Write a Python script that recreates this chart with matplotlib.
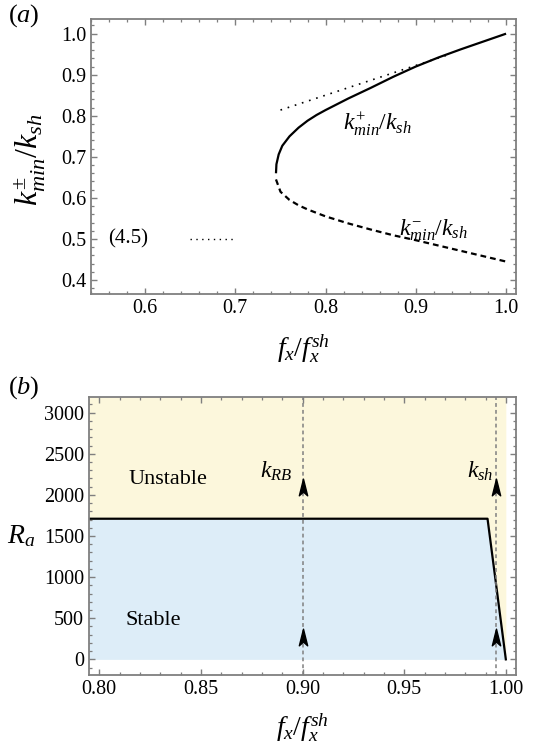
import matplotlib
matplotlib.use("Agg")
import matplotlib.pyplot as plt
from matplotlib.ticker import MultipleLocator
from matplotlib.path import Path

plt.rcParams['font.family'] = ['Liberation Serif', 'DejaVu Serif']
plt.rcParams['mathtext.fontset'] = 'custom'
plt.rcParams['mathtext.rm'] = 'Liberation Serif'
plt.rcParams['mathtext.it'] = 'Liberation Serif:italic'

# ---------------- data: panel (a) ----------------
fx_plus = [0.745, 0.7455, 0.748, 0.752, 0.76, 0.77, 0.78, 0.79, 0.80, 0.825,
           0.85, 0.875, 0.90, 0.925, 0.95, 0.975, 1.0]
k_plus = [0.660, 0.682, 0.706, 0.727, 0.750, 0.771, 0.788, 0.802, 0.814, 0.842,
          0.868, 0.895, 0.920, 0.942, 0.962, 0.981, 1.0]
fx_minus = [0.745, 0.75, 0.76, 0.77, 0.78, 0.80, 0.825, 0.85, 0.875, 0.90,
            0.925, 0.95, 0.975, 1.0]
k_minus = [0.645, 0.615, 0.595, 0.582, 0.572, 0.555, 0.538, 0.523, 0.509, 0.497,
           0.484, 0.471, 0.458, 0.445]
fx_approx = [0.75, 0.935]
k_approx = [0.814, 0.948]
legend_fx = [0.65, 0.70]
legend_k = [0.5, 0.5]

# ---------------- data: panel (b) ----------------
fx_Ra = [0.795, 0.991, 1.0]
Ra = [1710, 1710, 0]
fx_marks = [0.90, 0.995]
mark_labels = [r'$k_{RB}$', r'$k_{sh}$']
mark_label_x = [0.8872, 0.9872]
arrow_Ra = [270, 2090]

W, H = 546, 744
fig = plt.figure(figsize=(W / 100, H / 100), dpi=100)

frame_col = '#7f7f7f'
tick_fs = 14.5
lab_fs = 20


def style_axes(ax):
    for s in ax.spines.values():
        s.set_color(frame_col)
        s.set_linewidth(1.3)
    ax.tick_params(which='both', direction='in', top=True, right=True,
                   color=frame_col, labelsize=tick_fs)
    ax.tick_params(which='major', length=4.5, width=1.0)
    ax.tick_params(which='minor', length=2.5, width=0.9)


# ---------- panel (a) ----------
axa = fig.add_axes([91 / W, 1 - 294 / H, 425 / W, 274.7 / H])
axa.plot(fx_plus, k_plus, color='black', lw=1.6, solid_capstyle='butt')
axa.plot(fx_minus, k_minus, color='black', lw=1.6, linestyle=(0, (2.6, 1.8)))
axa.plot(fx_approx, k_approx, color='black', lw=1.2, linestyle=(0, (1, 3.5)))
axa.plot(legend_fx, legend_k, color='black', lw=1.0, linestyle=(0, (1, 3.2)))
axa.text(0.5815, 0.5, '(4.5)', fontsize=15, ha='center', va='center')
axa.text(0.857, 0.778, r'$k^{+}_{min}/k_{sh}$', fontsize=17, ha='center', va='center')
axa.text(0.9195, 0.522, r'$k^{-}_{min}/k_{sh}$', fontsize=17, ha='center', va='center')
axa.set_xlim(0.54, 1.011)
axa.set_ylim(0.366, 1.035)
axa.xaxis.set_minor_locator(MultipleLocator(0.02))
axa.yaxis.set_minor_locator(MultipleLocator(0.02))
axa.set_xticks([0.6, 0.7, 0.8, 0.9, 1.0])
axa.set_xticklabels(['0.6', '0.7', '0.8', '0.9', '1.0'])
axa.set_yticks([0.4, 0.5, 0.6, 0.7, 0.8, 0.9, 1.0])
axa.set_yticklabels(['0.4', '0.5', '0.6', '0.7', '0.8', '0.9', '1.0'])
style_axes(axa)
axa.set_xlabel(r'$f_x/f_x^{sh}$', fontsize=lab_fs)
axa.xaxis.set_label_coords(0.5, -0.14)
axa.set_ylabel(r'$k^{\pm}_{min}/k_{sh}$', fontsize=23)
axa.yaxis.set_label_coords(-0.10, 0.49)
fig.text(8 / W, 1 - 16 / H, r'($a$)', fontsize=19, ha='left', va='center')

# ---------- panel (b) ----------
axb = fig.add_axes([89 / W, 1 - 675 / H, 427 / W, 278 / H])
ylo, yhi = -190, 3190
axb.fill_between(fx_Ra, [0] * len(fx_Ra), Ra, color='#ddedf8', lw=0)
axb.fill_between(fx_Ra, Ra, [yhi] * len(fx_Ra), color='#fcf7dc', lw=0)
axb.plot(fx_Ra, Ra, color='black', lw=1.6)

arrow_path = Path([(0, 1), (0.5, -1), (0, -0.55), (-0.5, -1), (0, 1)],
                  [Path.MOVETO, Path.LINETO, Path.LINETO, Path.LINETO, Path.CLOSEPOLY])
for xm, lx, lab in zip(fx_marks, mark_label_x, mark_labels):
    axb.axvline(xm, color='#808080', lw=1.1, linestyle=(0, (2.5, 2)))
    axb.plot([xm] * len(arrow_Ra), arrow_Ra, linestyle='none', marker=arrow_path,
             markersize=12, color='black')
    axb.text(lx, 2280, lab, fontsize=17, ha='center', va='center')

axb.text(0.8336, 2189, 'Unstable', fontsize=16, ha='center', va='center')
axb.text(0.8267, 474, 'Stable', fontsize=16, ha='center', va='center')
axb.set_xlim(0.795, 1.005)
axb.set_ylim(ylo, yhi)
axb.set_xticks([0.80, 0.85, 0.90, 0.95, 1.00])
axb.set_xticklabels(['0.80', '0.85', '0.90', '0.95', '1.00'])
axb.xaxis.set_minor_locator(MultipleLocator(0.01))
axb.set_yticks([0, 500, 1000, 1500, 2000, 2500, 3000])
axb.yaxis.set_minor_locator(MultipleLocator(100))
style_axes(axb)
axb.set_xlabel(r'$f_x/f_x^{sh}$', fontsize=lab_fs)
axb.xaxis.set_label_coords(0.5, -0.13)
axb.set_ylabel(r'$R_a$', fontsize=20, rotation=0, ha='center', va='center')
axb.yaxis.set_label_coords(-0.158, 0.5)
fig.text(8 / W, 1 - 388 / H, r'($b$)', fontsize=19, ha='left', va='center')

fig.savefig('out.png', dpi=100)
